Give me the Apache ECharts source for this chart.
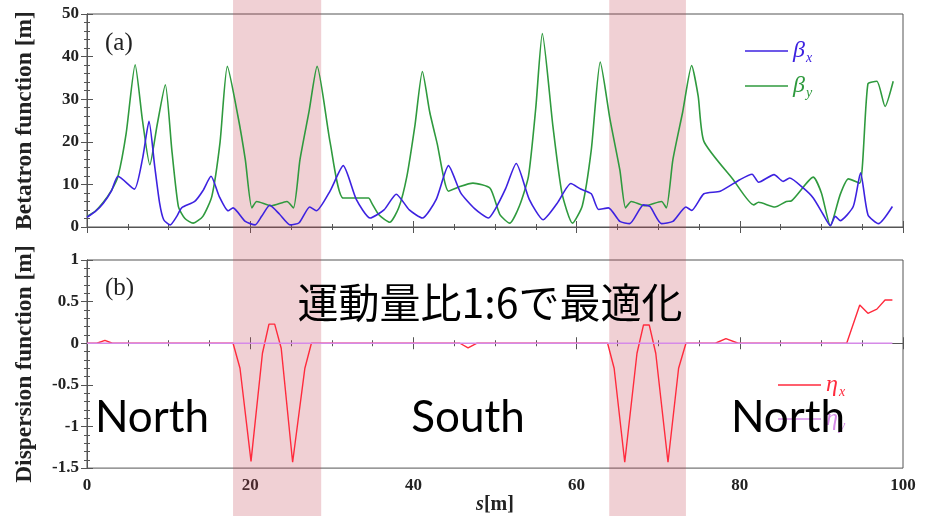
<!DOCTYPE html>
<html>
<head>
<meta charset="utf-8">
<script src="https://cdn.jsdelivr.net/npm/echarts@6/dist/echarts.min.js"></script>
<style>
  html, body { margin: 0; padding: 0; background: #fff; }
  #chart { width: 926px; height: 516px; }
</style>
</head>
<body>
<div id="chart"></div>
<script>
// s [m] / value pairs
const betaX = [
  [0, 2.3], [1, 3.6], [2, 5.6], [3, 8.5], [3.8, 11.9], [5.8, 8.9], [6.8, 16], [7.6, 24.8],
  [8.3, 14.2], [8.9, 5.6], [9.4, 1.7], [10.2, 0.5], [11.0, 2.5], [11.6, 4.5], [13.2, 6.0],
  [14.2, 8.5], [15.2, 11.9], [16.2, 7.2], [17.3, 3.8], [17.9, 4.5], [19.4, 1.3], [20.6, 0.5],
  [21.4, 2.5], [22.4, 5.1], [23.6, 3.0], [24.9, 0.5], [26.0, 1.0], [27.3, 4.7], [28.1, 3.8],
  [29.8, 8.5], [31.4, 14.4], [33.0, 6.5], [34.7, 2.1], [36.4, 4.0], [37.9, 7.7], [39.5, 4.0],
  [41.1, 2.1], [42.8, 6.5], [44.3, 14.4], [45.8, 8.0], [47.5, 4.3], [49.2, 2.1], [50.0, 4.1],
  [51.3, 9.0], [52.6, 14.9], [54.2, 6.5], [55.9, 1.7], [57.6, 5.5], [59.3, 10.2], [60.5, 8.9],
  [61.8, 7.8], [62.7, 4.1], [63.9, 4.5], [65.3, 1.3], [66.5, 0.8], [68.2, 5.2], [69.0, 4.8],
  [70.4, 0.8], [71.8, 1.3], [73.4, 4.7], [74.1, 3.9], [75.6, 7.8], [77.6, 8.4], [80.0, 11.1],
  [81.5, 12.4], [82.3, 10.5], [84.2, 12.3], [85.3, 10.7], [86.1, 11.5], [87.8, 9.1],
  [89.0, 6.8], [90.2, 3.0], [91.1, 0.3], [91.7, 2.5], [92.3, 1.5], [93.9, 4.8], [94.8, 12.7],
  [95.7, 2.9], [97.0, 0.8], [98.7, 4.8]
];
const betaY = [
  [0, 2.5], [1, 3.7], [2, 5.8], [3, 8.6], [3.8, 11.9], [4.8, 22], [5.9, 38.1], [6.8, 25],
  [7.7, 14.6], [8.6, 24], [9.6, 33.4], [10.4, 18], [11.2, 4.8], [12.0, 2.0], [13.0, 0.9],
  [14.2, 2.5], [15.3, 7.2], [16.3, 19.8], [17.2, 37.7], [18.5, 26], [19.4, 15.8], [20.2, 4.5],
  [20.8, 6.0], [22.6, 5.0], [24.5, 6.0], [25.3, 4.5], [26.1, 15.8], [27.2, 27], [28.2, 37.7],
  [29.8, 19.8], [31.4, 6.8], [34.5, 6.8], [34.9, 5.6], [35.8, 2.8], [37.1, 1.1], [38.2, 4.5],
  [39.2, 11.9], [40.2, 24], [41.1, 36.5], [42.0, 27], [42.9, 19.7], [44.3, 8.4], [45.7, 9.5],
  [47.3, 10.3], [49.4, 9.1], [50.6, 2.9], [51.8, 0.9], [53.0, 5.0], [54.1, 11.9], [55.0, 28],
  [55.8, 45.4], [57.1, 23.6], [58.2, 8.0], [59.5, 0.9], [60.7, 5.0], [61.8, 18.1], [62.9, 38.7],
  [64.1, 25.2], [65.3, 13.4], [66.0, 4.5], [66.7, 6.0], [68.4, 5.0], [70.4, 6.0], [71.0, 4.5],
  [71.8, 15.8], [73.0, 27], [74.1, 37.9], [74.9, 30.7], [75.6, 20.1], [79.2, 11.1], [81.7, 5.2],
  [82.3, 5.8], [84.3, 4.7], [85.7, 6.0], [86.3, 6.1], [89.0, 11.7], [90.0, 8.0], [91.1, 0.3],
  [92.3, 7.6], [93.3, 11.3], [94.7, 10.3], [95.7, 33.6], [96.8, 34.2], [97.8, 28.3], [98.8, 34.2]
];
const etaX = [
  [0, 0], [1.2, 0], [2.2, 0.035], [3.1, 0], [17.9, 0], [18.75, -0.30], [20.1, -1.42],
  [21.5, -0.12], [22.3, 0.23], [23.0, 0.23], [23.8, -0.06], [25.2, -1.43], [26.7, -0.30],
  [27.5, 0], [45.7, 0], [46.7, -0.055], [47.8, 0], [63.8, 0], [64.6, -0.30], [65.9, -1.43],
  [67.4, -0.12], [68.2, 0.22], [68.9, 0.22], [69.7, -0.12], [71.2, -1.43], [72.5, -0.30],
  [73.4, 0], [77.0, 0], [78.3, 0.055], [79.8, 0], [93.1, 0], [94.7, 0.46], [95.7, 0.36],
  [96.8, 0.41], [97.8, 0.52], [98.7, 0.52]
];
const etaY = [[0, 0], [98.7, 0]];

// shaded sections (s range)
const shadeRanges = [[17.9, 28.7], [64.0, 73.4]];

const sectionLabels = ['North', 'South', 'North'];
const overlayTitle = '運動量比1:6で最適化';

const BLUE = '#3d22e0';
const GREEN = '#2f9a3e';
const RED = '#ff2a3c';
const PURPLE = '#d58ae8';
const AXIS = '#555';
const SERIF = 'Liberation Serif';

const chart = echarts.init(document.getElementById('chart'));

function xAx(grid, pos, showLabels, name) {
  return {
    type: 'value', gridIndex: grid, position: pos, min: 0, max: 100, interval: 20,
    axisLine: { show: true, lineStyle: { color: AXIS } },
    axisTick: { inside: true, length: 6, lineStyle: { color: AXIS } },
    minorTick: { show: true, splitNumber: 4, length: 3, lineStyle: { color: AXIS } },
    splitLine: { show: false },
    axisLabel: { show: showLabels, fontFamily: SERIF, fontWeight: 'bold', fontSize: 17, color: '#222', margin: 9 },
    name: name || '', nameLocation: 'middle', nameGap: 22,
    nameTextStyle: {
      fontFamily: SERIF, fontWeight: 'bold', fontSize: 20, color: '#222',
      rich: { i: { fontFamily: SERIF, fontWeight: 'bold', fontStyle: 'italic', fontSize: 20, color: '#222' } }
    }
  };
}
function yAx(grid, pos, min, max, interval, showLabels, name, fs) {
  return {
    type: 'value', gridIndex: grid, position: pos, min: min, max: max, interval: interval,
    axisLine: { show: true, lineStyle: { color: AXIS } },
    axisTick: { inside: true, length: 6, lineStyle: { color: AXIS } },
    minorTick: { show: true, splitNumber: 5, length: 3, lineStyle: { color: AXIS } },
    splitLine: { show: false },
    axisLabel: { show: showLabels, fontFamily: SERIF, fontWeight: 'bold', fontSize: 17, color: '#222', margin: 8 },
    name: name || '', nameLocation: 'middle', nameGap: 50,
    nameTextStyle: { fontFamily: SERIF, fontWeight: 'bold', fontSize: fs || 23, color: '#222' }
  };
}

function legendFor(name, color, left, top) {
  return {
    data: [{ name: name, textStyle: { color: color } }],
    left: left, top: top, padding: 0, itemWidth: 43, itemHeight: 1.6,
    icon: 'path://M0 0H270V10H0Z',
    selectedMode: false,
    formatter: n => '{g|' + n[0] + '}{s|' + n.slice(1) + '}',
    textStyle: {
      rich: {
        g: { fontFamily: SERIF, fontStyle: 'italic', fontSize: 24, lineHeight: 28 },
        s: { fontFamily: SERIF, fontStyle: 'italic', fontSize: 14, lineHeight: 28, verticalAlign: 'bottom', padding: [0, 0, 0, 1] }
      }
    }
  };
}

const option = {
  animation: false,
  backgroundColor: '#fff',
  grid: [
    { left: 87, right: 23, top: 14, height: 213, show: true, borderColor: AXIS, borderWidth: 1, backgroundColor: 'transparent' },
    { left: 87, right: 23, top: 260, height: 212, show: true, borderColor: AXIS, borderWidth: 1, backgroundColor: 'transparent' },
    { left: 87, right: 23, top: 0, bottom: 0, show: false }
  ],
  xAxis: [
    xAx(0, 'bottom', false),
    xAx(0, 'top', false),
    xAx(1, 'bottom', true, '{i|s}[m]'),
    xAx(1, 'top', false),
    { type: 'value', gridIndex: 2, min: 0, max: 100, show: false }
  ],
  yAxis: [
    yAx(0, 'left', 0, 50, 10, true, 'Betatron function [m]', 23.5),
    yAx(0, 'right', 0, 50, 10, false),
    yAx(1, 'left', -1.5, 1, 0.5, true, 'Dispersion function [m]', 23.5),
    yAx(1, 'right', -1.5, 1, 0.5, false),
    { type: 'value', gridIndex: 2, min: 0, max: 1, show: false }
  ],
  legend: [
    legendFor('βx', BLUE, 745, 39),
    legendFor('βy', GREEN, 745, 74),
    legendFor('ηx', RED, 778, 373),
    legendFor('ηy', PURPLE, 778, 407)
  ],
  series: [
    { name: 'βy', type: 'line', xAxisIndex: 0, yAxisIndex: 0, data: betaY, symbol: 'none', smooth: 0.2,
      lineStyle: { color: GREEN, width: 1.6 }, itemStyle: { color: GREEN } },
    { name: 'βx', type: 'line', xAxisIndex: 0, yAxisIndex: 0, data: betaX, symbol: 'none', smooth: 0.2,
      lineStyle: { color: BLUE, width: 1.6 }, itemStyle: { color: BLUE } },
    { name: 'ηx', type: 'line', xAxisIndex: 2, yAxisIndex: 2, data: etaX, symbol: 'none',
      lineStyle: { color: RED, width: 1.4 }, itemStyle: { color: RED } },
    { name: 'ηy', type: 'line', xAxisIndex: 2, yAxisIndex: 2, data: etaY, symbol: 'none',
      lineStyle: { color: PURPLE, width: 1.6 }, itemStyle: { color: PURPLE } },
    { name: 'shade', type: 'line', xAxisIndex: 4, yAxisIndex: 4, data: [], z: 10, silent: true,
      markArea: {
        silent: true,
        itemStyle: { color: 'rgba(195,67,83,0.25)' },
        data: shadeRanges.map(r => [{ xAxis: r[0] }, { xAxis: r[1] }])
      }
    }
  ],
  graphic: [
    { type: 'text', left: 105, top: 31, z: 20,
      style: { text: '(a)', fontFamily: SERIF, fontSize: 25, fill: '#222' } },
    { type: 'text', left: 105, top: 276, z: 20,
      style: { text: '(b)', fontFamily: SERIF, fontSize: 25, fill: '#222' } },
    { type: 'text', z: 30,
      style: { text: overlayTitle, x: 490, y: 302, align: 'center', verticalAlign: 'middle',
        fontFamily: 'Noto Sans CJK JP', fontSize: 41, fill: '#000' } },
    { type: 'text', z: 30,
      style: { text: sectionLabels[0], x: 152, y: 418, align: 'center', verticalAlign: 'middle',
        fontFamily: 'Lato', fontSize: 44, fill: '#000' } },
    { type: 'text', z: 30,
      style: { text: sectionLabels[1], x: 468, y: 418, align: 'center', verticalAlign: 'middle',
        fontFamily: 'Lato', fontSize: 44, fill: '#000' } },
    { type: 'text', z: 30,
      style: { text: sectionLabels[2], x: 788, y: 418, align: 'center', verticalAlign: 'middle',
        fontFamily: 'Lato', fontSize: 44, fill: '#000' } }
  ]
};

chart.setOption(option);
</script>
</body>
</html>
